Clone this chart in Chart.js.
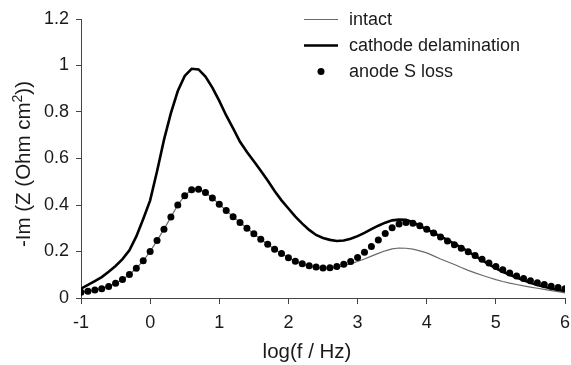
<!DOCTYPE html>
<html>
<head>
<meta charset="utf-8">
<script src="https://cdn.jsdelivr.net/npm/chart.js@4.4.1/dist/chart.umd.min.js"></script>
<style>
  html, body { margin: 0; padding: 0; background: #fff; }
  #wrap { width: 571px; height: 365px; position: relative; }
</style>
</head>
<body>
<div id="wrap"><canvas id="c" width="571" height="365"></canvas></div>
<script>
// ---- data ----
const logF = [
  -1.0, -0.9, -0.8, -0.7, -0.6, -0.5, -0.4, -0.3, -0.2, -0.1,
   0.0,  0.1,  0.2,  0.3,  0.4,  0.5,  0.6,  0.7,  0.8,  0.9,
   1.0,  1.1,  1.2,  1.3,  1.4,  1.5,  1.6,  1.7,  1.8,  1.9,
   2.0,  2.1,  2.2,  2.3,  2.4,  2.5,  2.6,  2.7,  2.8,  2.9,
   3.0,  3.1,  3.2,  3.3,  3.4,  3.5,  3.6,  3.7,  3.8,  3.9,
   4.0,  4.1,  4.2,  4.3,  4.4,  4.5,  4.6,  4.7,  4.8,  4.9,
   5.0,  5.1,  5.2,  5.3,  5.4,  5.5,  5.6,  5.7,  5.8,  5.9,
   6.0
];
const intact = [
  0.025, 0.029, 0.034, 0.040, 0.050, 0.063, 0.080, 0.101, 0.128, 0.160,
  0.200, 0.247, 0.296, 0.348, 0.400, 0.440, 0.466, 0.468, 0.454, 0.430,
  0.403, 0.376, 0.350, 0.325, 0.300, 0.276, 0.253, 0.231, 0.210, 0.191,
  0.173, 0.157, 0.146, 0.137, 0.131, 0.128, 0.128, 0.132, 0.139, 0.147,
  0.157, 0.168, 0.180, 0.192, 0.203, 0.211, 0.215, 0.214, 0.210, 0.203,
  0.194, 0.181, 0.168, 0.156, 0.144, 0.131, 0.119, 0.108, 0.098, 0.088,
  0.079, 0.071, 0.064, 0.058, 0.052, 0.047, 0.042, 0.037, 0.032, 0.027,
  0.022
];
const cathode = [
  0.040, 0.056, 0.073, 0.090, 0.113, 0.138, 0.167, 0.205, 0.265, 0.340,
  0.420, 0.545, 0.680, 0.795, 0.890, 0.955, 0.986, 0.983, 0.952, 0.905,
  0.848, 0.785, 0.730, 0.672, 0.628, 0.588, 0.547, 0.505, 0.460, 0.420,
  0.385, 0.350, 0.320, 0.293, 0.271, 0.258, 0.250, 0.245, 0.247, 0.255,
  0.266, 0.280, 0.296, 0.311, 0.324, 0.334, 0.337, 0.336, 0.326, 0.310,
  0.295, 0.280, 0.265, 0.250, 0.233, 0.218, 0.200, 0.181, 0.163, 0.145,
  0.128, 0.113, 0.100, 0.088, 0.076, 0.065, 0.056, 0.048, 0.041, 0.035,
  0.030
];
const anode = [
  0.025, 0.029, 0.034, 0.040, 0.050, 0.063, 0.080, 0.101, 0.128, 0.160,
  0.200, 0.247, 0.296, 0.348, 0.400, 0.440, 0.466, 0.468, 0.454, 0.430,
  0.403, 0.376, 0.350, 0.325, 0.300, 0.276, 0.253, 0.231, 0.210, 0.191,
  0.173, 0.158, 0.147, 0.139, 0.133, 0.129, 0.130, 0.136, 0.145, 0.157,
  0.174, 0.197, 0.222, 0.250, 0.277, 0.302, 0.318, 0.325, 0.321, 0.311,
  0.296, 0.280, 0.262, 0.245, 0.229, 0.214, 0.199, 0.183, 0.167, 0.151,
  0.136, 0.121, 0.107, 0.095, 0.084, 0.074, 0.066, 0.058, 0.051, 0.045,
  0.040
];
const seriesNames = ['intact', 'cathode delamination', 'anode S loss'];
const xTicks = [-1, 0, 1, 2, 3, 4, 5, 6];
const yTicks = [0, 0.2, 0.4, 0.6, 0.8, 1, 1.2];
const xTitle = 'log(f / Hz)';
const yTitleParts = ['-Im (Z (Ohm cm', '2', '))'];

const FONT = "'Liberation Sans', Arial, Helvetica, sans-serif";
const TEXT = '#1a1a1a';
const AXIS = '#444';

function pts(vals) { return logF.map((x, i) => ({ x: x, y: vals[i] })); }

const legendAndTitles = {
  id: 'legendAndTitles',
  afterDraw(chart) {
    const ctx = chart.ctx;
    ctx.save();
    // x axis title
    ctx.fillStyle = TEXT;
    ctx.font = '20.5px ' + FONT;
    ctx.textAlign = 'center';
    ctx.textBaseline = 'alphabetic';
    ctx.fillText(xTitle, 307, 358);
    // y axis title with superscript
    ctx.save();
    ctx.translate(30, 164);
    ctx.rotate(-Math.PI / 2);
    ctx.textAlign = 'left';
    const big = '20.5px ' + FONT, small = '14px ' + FONT;
    ctx.font = big; const w0 = ctx.measureText(yTitleParts[0]).width;
    ctx.font = small; const w1 = ctx.measureText(yTitleParts[1]).width;
    ctx.font = big; const w2 = ctx.measureText(yTitleParts[2]).width;
    let x = -(w0 + w1 + w2) / 2;
    ctx.font = big; ctx.fillText(yTitleParts[0], x, 0); x += w0;
    ctx.font = small; ctx.fillText(yTitleParts[1], x, -8); x += w1;
    ctx.font = big; ctx.fillText(yTitleParts[2], x, 0);
    ctx.restore();
    // legend
    const rows = [19.5, 45.5, 71.5];
    ctx.font = '18px ' + FONT;
    ctx.textAlign = 'left';
    ctx.textBaseline = 'middle';
    chart.data.datasets.forEach((ds, i) => {
      const y = rows[i];
      if (ds.showLine !== false) {
        ctx.strokeStyle = ds.borderColor;
        ctx.lineWidth = ds.borderWidth;
        ctx.beginPath();
        ctx.moveTo(304, y);
        ctx.lineTo(338, y);
        ctx.stroke();
      } else {
        ctx.fillStyle = ds.pointBackgroundColor;
        ctx.beginPath();
        ctx.arc(321, y, ds.pointRadius, 0, Math.PI * 2);
        ctx.fill();
      }
      ctx.fillStyle = TEXT;
      ctx.fillText(ds.label, 349, y + 1);
    });
    ctx.restore();
  }
};

new Chart(document.getElementById('c'), {
  type: 'line',
  data: {
    datasets: [
      { label: seriesNames[0], data: pts(intact), borderColor: '#6a6a6a', borderWidth: 1.2,
        pointRadius: 0, fill: false, order: 3 },
      { label: seriesNames[1], data: pts(cathode), borderColor: '#000', borderWidth: 2.6,
        pointRadius: 0, fill: false, order: 2 },
      { label: seriesNames[2], data: pts(anode), showLine: false, borderColor: '#000', borderWidth: 0,
        pointRadius: 3.5, pointBackgroundColor: '#000', pointBorderWidth: 0, order: 1 }
    ]
  },
  options: {
    responsive: false,
    animation: false,
    devicePixelRatio: 1,
    layout: { padding: { left: 0, right: 6, top: 19, bottom: 0 } },
    plugins: { legend: { display: false }, tooltip: { enabled: false } },
    scales: {
      x: {
        type: 'linear', min: -1, max: 6,
        afterBuildTicks: s => { s.ticks = xTicks.map(v => ({ value: v })); },
        afterFit: s => { s.height = 67; s.paddingLeft = 0; s.paddingRight = 0; },
        grid: { display: true, drawOnChartArea: false, drawTicks: true, tickLength: 6, color: AXIS, lineWidth: 1 },
        border: { display: true, color: AXIS, width: 1 },
        ticks: { color: TEXT, font: { family: FONT, size: 18 }, padding: 8, maxRotation: 0,
                  callback: v => String(v) }
      },
      y: {
        type: 'linear', min: 0, max: 1.2,
        afterBuildTicks: s => { s.ticks = yTicks.map(v => ({ value: v })); },
        afterFit: s => { s.width = 81; s.paddingTop = 0; s.paddingBottom = 0; },
        grid: { display: true, drawOnChartArea: false, drawTicks: true, tickLength: 5, color: AXIS, lineWidth: 1 },
        border: { display: true, color: AXIS, width: 1 },
        ticks: { color: TEXT, font: { family: FONT, size: 18 }, padding: 7,
                 callback: v => String(Math.round(v * 10) / 10) }
      }
    }
  },
  plugins: [legendAndTitles]
});
</script>
</body>
</html>
